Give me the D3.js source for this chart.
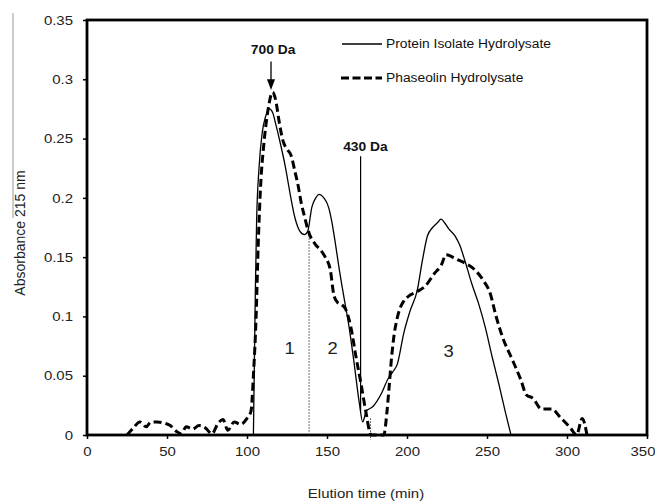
<!DOCTYPE html>
<html><head><meta charset="utf-8">
<script src="https://cdn.jsdelivr.net/npm/d3@7"></script>
<style>body{margin:0;background:#fff}text{font-family:"Liberation Sans",Arial,sans-serif}</style>
</head><body>
<svg id="c" width="655" height="503"></svg>
<script>
const proteinTime = [104,104.6,105.2,106,107.5,109.5,111.5,114,116,118,121,124,127,130,133,136,138,140.5,143,145,148,151,153,155.3,157.4,160.6,163.8,167,170.2,172.3,174.5,178.7,184,188,191,194,198,202,206.4,209.6,212.8,216,219,221.3,223.5,226,230,233,236.2,240.4,244.7,248.9,253.2,257.4,261.7,265];
const proteinAbs = [0,0.06,0.12,0.18,0.225,0.255,0.268,0.275,0.272,0.262,0.245,0.226,0.203,0.183,0.172,0.169,0.172,0.192,0.2,0.203,0.2,0.192,0.18,0.161,0.142,0.116,0.091,0.06,0.027,0.011,0.02,0.024,0.035,0.047,0.053,0.06,0.086,0.105,0.122,0.147,0.168,0.175,0.179,0.182,0.179,0.174,0.168,0.16,0.147,0.128,0.111,0.091,0.066,0.043,0.018,0];
const phaseolinTime = [25,29,33,37,40,44,48,52,56,59,62,66,70,74,78,82,85,88,92,96,100,102.5,104,105.7,107,108.5,110.5,113,116,118,120,122.5,125,127.5,130,132,134,136,138.3,142.6,146,148.9,152.1,154.3,156.5,159,161.7,164.9,168.1,171.3,174.5,177.5,185.5,187.5,188.8,190.4,192,193.6,196,198,202,206.4,211.7,217,221.3,224.5,227,229.8,233,236.2,242.6,247.9,252.1,255.3,259.6,266,271.3,274.5,278.7,284,290.4,295.7,302.1,306,309.5,312.5];
const phaseolinAbs = [0,0.006,0.011,0.007,0.011,0.011,0.01,0.008,0.003,0.001,0.007,0.005,0.008,0.006,0.001,0.01,0.013,0.004,0.011,0.009,0.014,0.02,0.05,0.1,0.16,0.21,0.245,0.273,0.289,0.282,0.265,0.248,0.241,0.236,0.222,0.21,0.195,0.184,0.172,0.161,0.156,0.15,0.139,0.118,0.112,0.11,0.106,0.091,0.066,0.043,0.018,0,0,0.02,0.04,0.066,0.085,0.097,0.108,0.113,0.118,0.121,0.126,0.136,0.143,0.152,0.151,0.149,0.147,0.145,0.139,0.13,0.119,0.102,0.083,0.063,0.046,0.034,0.031,0.022,0.022,0.015,0.006,0,0.014,0];
const xTicks = [0,50,100,150,200,250,300,350];
const yTicks = [0,0.05,0.1,0.15,0.2,0.25,0.3,0.35];
const seriesNames = ["Protein Isolate Hydrolysate","Phaseolin Hydrolysate"];
const regionLabels = [{t:126.7,v:0.068,s:"1"},{t:153.6,v:0.068,s:"2"},{t:226,v:0.066,s:"3"}];
const annotations = [{t:116.3,v:0.321,s:"700 Da"},{t:174,v:0.2395,s:"430 Da"}];
const dividerTimes = [138.8, 177.2];
const marker430 = 171;
const arrowTime = 115;

const STRETCH = 1.15;
function stretch(sel){ sel.each(function(){ const w=this.getComputedTextLength(); d3.select(this).attr("textLength",w*STRETCH).attr("lengthAdjust","spacingAndGlyphs"); }); }

const svg = d3.select("#c");
const L=87,R=647,T=20,B=435;
const x = d3.scaleLinear().domain([0,350]).range([L,R]);
const y = d3.scaleLinear().domain([0,0.35]).range([B,T]);

svg.append("line").attr("x1",13).attr("x2",13).attr("y1",13).attr("y2",218).attr("stroke","#999").attr("stroke-width",1);

const xa = svg.append("g").attr("transform",`translate(0,${B})`)
  .call(d3.axisBottom(x).tickValues(xTicks).tickFormat(d3.format("d")).tickSize(4).tickSizeOuter(0).tickPadding(8));
const ya = svg.append("g").attr("transform",`translate(${L},0)`)
  .call(d3.axisLeft(y).tickValues(yTicks).tickFormat(d=>d===0?"0":String(+d.toFixed(2))).tickSize(4).tickSizeOuter(0).tickPadding(10));
[xa,ya].forEach(g=>{g.select(".domain").remove();g.selectAll("line").attr("stroke","#000").attr("stroke-width",1.5);
  g.selectAll("text").attr("font-size",13).attr("fill","#222").style("font-family","Liberation Sans, Arial, sans-serif").call(stretch);});
// keep the last x label inside the picture
xa.selectAll(".tick").filter(d=>d===350).select("text").attr("text-anchor","end").attr("x",8);

svg.append("rect").attr("x",L).attr("y",T).attr("width",R-L).attr("height",B-T).attr("fill","none").attr("stroke","#000").attr("stroke-width",2.8);

svg.append("text").attr("x",366).attr("y",498).attr("text-anchor","middle").attr("font-size",13).attr("fill","#222").text("Elution time (min)").call(stretch);
svg.append("text").attr("transform","translate(25,233) rotate(-90)").attr("text-anchor","middle").attr("font-size",14).attr("fill","#222").text("Absorbance 215 nm");

svg.append("line").attr("x1",x(dividerTimes[0])).attr("x2",x(dividerTimes[0])).attr("y1",y(0.171)).attr("y2",y(0)).attr("stroke","#444").attr("stroke-width",1).attr("stroke-dasharray","1.5,1.5");
svg.append("line").attr("x1",x(dividerTimes[1])).attr("x2",x(dividerTimes[1])).attr("y1",y(0.014)).attr("y2",y(-0.004)).attr("stroke","#444").attr("stroke-width",1).attr("stroke-dasharray","1.5,1.5");
svg.append("line").attr("x1",x(marker430)).attr("x2",x(marker430)).attr("y1",y(0.235)).attr("y2",y(0.02)).attr("stroke","#000").attr("stroke-width",1.2);

const line = d3.line().x(d=>x(d[0])).y(d=>y(d[1])).curve(d3.curveMonotoneX);
svg.append("path").datum(proteinTime.map((t,i)=>[t,proteinAbs[i]])).attr("d",line).attr("fill","none").attr("stroke","#000").attr("stroke-width",1.3);
svg.append("path").datum(phaseolinTime.map((t,i)=>[t,phaseolinAbs[i]])).attr("d",line).attr("fill","none").attr("stroke","#000").attr("stroke-width",3).attr("stroke-dasharray","8,4");

annotations.forEach(a=>svg.append("text").attr("x",x(a.t)).attr("y",y(a.v)).attr("text-anchor","middle").attr("font-size",12).attr("font-weight","bold").attr("fill","#111").text(a.s).call(stretch));
svg.append("line").attr("x1",x(arrowTime)).attr("x2",x(arrowTime)).attr("y1",y(0.315)).attr("y2",y(0.298)).attr("stroke","#000").attr("stroke-width",1.3);
svg.append("path").attr("d",`M${x(arrowTime)-4},${y(0.3)} L${x(arrowTime)+4},${y(0.3)} L${x(arrowTime)},${y(0.291)} Z`).attr("fill","#000");

regionLabels.forEach(r=>svg.append("text").attr("x",x(r.t)).attr("y",y(r.v)).attr("text-anchor","middle").attr("font-size",16).attr("fill","#222").text(r.s).call(stretch));

const lg = svg.append("g");
lg.append("line").attr("x1",342).attr("x2",382).attr("y1",44).attr("y2",44).attr("stroke","#000").attr("stroke-width",1.3);
lg.append("line").attr("x1",341).attr("x2",382).attr("y1",78).attr("y2",78).attr("stroke","#000").attr("stroke-width",3).attr("stroke-dasharray","8,3.5");
lg.append("text").attr("x",386).attr("y",48).attr("font-size",12).attr("fill","#111").text(seriesNames[0]).call(stretch);
lg.append("text").attr("x",386).attr("y",82).attr("font-size",12).attr("fill","#111").text(seriesNames[1]).call(stretch);
</script>
</body></html>
